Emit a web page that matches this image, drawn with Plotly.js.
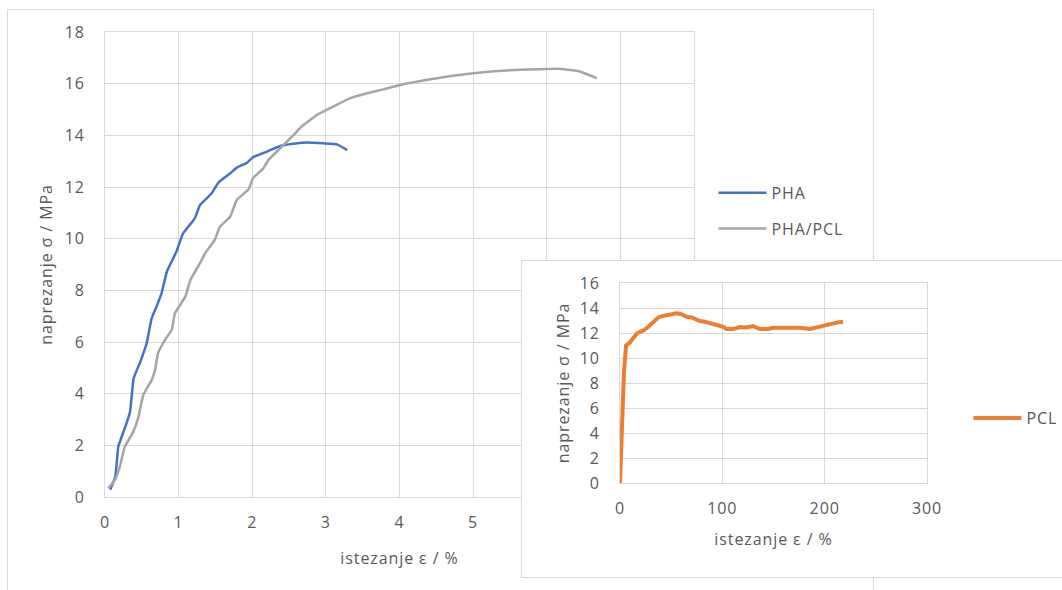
<!DOCTYPE html>
<html>
<head>
<meta charset="utf-8">
<script src="https://cdn.plot.ly/plotly-3.0.1.min.js"></script>
<style>
  html, body { margin: 0; padding: 0; background: #ffffff; width: 1062px; height: 590px; overflow: hidden; position: relative; }
  text { letter-spacing: 0.9px; }
  #main { position: absolute; left: 7px; top: 9px; width: 865px; height: 581px; border: 1px solid #d9d9d9; background: #fff; }
  #inset { position: absolute; left: 521px; top: 260px; width: 600px; height: 316px; border: 1px solid #d9d9d9; background: #fff; }
</style>
</head>
<body>
<div id="main"></div>
<div id="inset"></div>
<script>
// PHA
const phaStrain = [0.07, 0.14, 0.18, 0.21, 0.28, 0.34, 0.39, 0.475, 0.566, 0.634, 0.70, 0.77, 0.84, 0.97, 1.06, 1.22, 1.29, 1.45, 1.54, 1.70, 1.79, 1.93, 2.01, 2.20, 2.38, 2.56, 2.74, 2.97, 3.15, 3.29];
const phaStress = [0.28, 0.79, 1.95, 2.2, 2.75, 3.3, 4.6, 5.2, 5.95, 6.92, 7.37, 7.9, 8.72, 9.5, 10.2, 10.79, 11.3, 11.76, 12.17, 12.53, 12.75, 12.94, 13.15, 13.37, 13.59, 13.67, 13.72, 13.69, 13.65, 13.43];
// PHA/PCL
const blendStrain = [0.045, 0.136, 0.2, 0.27, 0.385, 0.45, 0.52, 0.634, 0.68, 0.72, 0.815, 0.906, 0.95, 1.09, 1.16, 1.29, 1.36, 1.49, 1.56, 1.70, 1.79, 1.95, 2.01, 2.15, 2.22, 2.38, 2.56, 2.67, 2.88, 3.10, 3.33, 3.56, 3.78, 4.01, 4.42, 5.0, 5.55, 6.0, 6.2, 6.45, 6.68];
const blendStress = [0.34, 0.66, 1.17, 1.95, 2.53, 3.05, 3.95, 4.53, 4.92, 5.56, 6.08, 6.47, 7.11, 7.75, 8.4, 9.05, 9.43, 9.95, 10.46, 10.85, 11.5, 11.91, 12.34, 12.72, 13.05, 13.5, 14.01, 14.34, 14.79, 15.11, 15.44, 15.63, 15.78, 15.95, 16.17, 16.4, 16.53, 16.57, 16.57, 16.47, 16.21];
// PCL
const pclStrain = [0, 1.7, 3.9, 5.9, 7.5, 9.8, 12, 14.7, 17, 19.5, 23, 27.7, 32.6, 37.5, 41, 45.6, 50, 55.4, 60, 65.2, 70, 74, 78.2, 83, 88, 93, 97.7, 101, 104, 110.8, 117, 122, 127, 130, 133, 136.8, 145, 150, 158, 166, 175, 185.7, 192, 198.7, 203, 208.4, 213, 218];
const pclStress = [0, 4.9, 8.9, 11.0, 11.1, 11.25, 11.5, 11.84, 12.0, 12.1, 12.2, 12.5, 12.9, 13.25, 13.35, 13.44, 13.45, 13.57, 13.5, 13.3, 13.25, 13.1, 12.96, 12.9, 12.78, 12.7, 12.6, 12.5, 12.32, 12.32, 12.48, 12.45, 12.5, 12.56, 12.45, 12.32, 12.32, 12.42, 12.42, 12.42, 12.42, 12.32, 12.45, 12.56, 12.65, 12.75, 12.85, 12.9];

// main x grid runs 0..8; labels 6-8 are hidden behind the inset in the original
const xTicks = [0, 1, 2, 3, 4, 5, 6, 7, 8];
const xTickLabels = ['0', '1', '2', '3', '4', '5', '', '', ''];
const yTicks = [0, 2, 4, 6, 8, 10, 12, 14, 16, 18];
const insetXTicks = [0, 100, 200, 300];
const insetYTicks = [0, 2, 4, 6, 8, 10, 12, 14, 16];

const FONT = '"Open Sans", "Noto Sans", sans-serif';
const FS = 16;
const TXT = '#595959';
const GRID = '#d9d9d9';

const mainTraces = [
  { x: phaStrain, y: phaStress, name: 'PHA', type: 'scatter', mode: 'lines',
    line: { color: '#4472c4', width: 2.5, shape: 'spline', smoothing: 0.4 }, legend: 'legend' },
  { x: blendStrain, y: blendStress, name: 'PHA/PCL', type: 'scatter', mode: 'lines',
    line: { color: '#a5a5a5', width: 2.5, shape: 'spline', smoothing: 0.4 }, legend: 'legend2' }
];

const legendCommon = { font: { family: FONT, size: FS, color: TXT }, bgcolor: 'rgba(0,0,0,0)', borderwidth: 0,
  xref: 'paper', yref: 'paper', xanchor: 'left', yanchor: 'middle', itemwidth: 48 };

const mainLayout = {
  width: 865, height: 581,
  margin: { l: 97, r: 179, t: 22, b: 94 },
  paper_bgcolor: '#ffffff', plot_bgcolor: '#ffffff',
  font: { family: FONT, size: FS, color: TXT },
  xaxis: { range: [0, 8], tickvals: xTicks, ticktext: xTickLabels, showgrid: true, gridcolor: GRID, gridwidth: 1,
    zeroline: false, showline: true, linecolor: GRID, mirror: true, ticks: '', ticklabelstandoff: 11,
    tickfont: { family: FONT, size: FS, color: TXT },
    title: { text: 'istezanje ε / %', font: { family: FONT, size: FS, color: TXT }, standoff: 20 } },
  yaxis: { range: [0, 18], tickvals: yTicks, ticktext: yTicks.map(String), showgrid: true, gridcolor: GRID, gridwidth: 1,
    zeroline: false, showline: true, linecolor: GRID, mirror: true, ticks: '', ticklabelstandoff: 16,
    tickfont: { family: FONT, size: FS, color: TXT },
    title: { text: 'naprezanje σ / MPa', font: { family: FONT, size: FS, color: TXT }, standoff: 8 } },
  legend: Object.assign({}, legendCommon, { x: 1.033, y: 0.654 }),
  legend2: Object.assign({}, legendCommon, { x: 1.033, y: 0.577 }),
  showlegend: true
};

Plotly.newPlot('main', mainTraces, mainLayout, { staticPlot: true, displayModeBar: false });

const insetTraces = [
  { x: pclStrain, y: pclStress, name: 'PCL', type: 'scatter', mode: 'lines',
    line: { color: '#ed7d31', width: 4 } }
];

const insetLayout = {
  width: 600, height: 316,
  margin: { l: 98, r: 195, t: 22, b: 94 },
  paper_bgcolor: '#ffffff', plot_bgcolor: '#ffffff',
  font: { family: FONT, size: FS, color: TXT },
  xaxis: { range: [0, 300], tickvals: insetXTicks, ticktext: insetXTicks.map(String), showgrid: true, gridcolor: GRID,
    zeroline: false, showline: true, linecolor: GRID, mirror: true, ticks: '', ticklabelstandoff: 11,
    tickfont: { family: FONT, size: FS, color: TXT },
    title: { text: 'istezanje ε / %', font: { family: FONT, size: FS, color: TXT }, standoff: 15 } },
  yaxis: { range: [0, 16], tickvals: insetYTicks, ticktext: insetYTicks.map(String), showgrid: true, gridcolor: GRID,
    zeroline: false, showline: true, linecolor: GRID, mirror: true, ticks: '', ticklabelstandoff: 16,
    tickfont: { family: FONT, size: FS, color: TXT },
    title: { text: 'naprezanje σ / MPa', font: { family: FONT, size: FS, color: TXT }, standoff: 6 } },
  legend: Object.assign({}, legendCommon, { x: 1.135, y: 0.325 }),
  showlegend: true
};

Plotly.newPlot('inset', insetTraces, insetLayout, { staticPlot: true, displayModeBar: false });
</script>
</body>
</html>
